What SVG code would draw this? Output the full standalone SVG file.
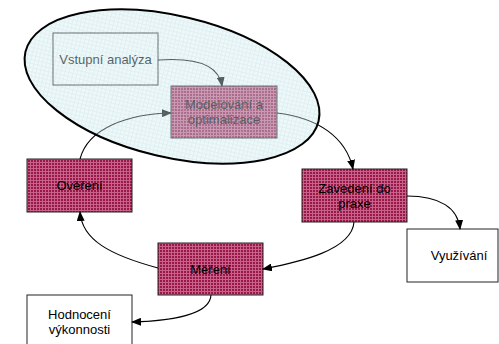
<svg xmlns="http://www.w3.org/2000/svg" width="499" height="344" viewBox="0 0 499 344">
<defs>
<pattern id="crimson" width="3" height="3" patternUnits="userSpaceOnUse">
<rect width="3" height="3" fill="#981848"/>
<rect width="3" height="1" fill="#c9628a"/>
<rect width="1" height="3" fill="#c9628a"/>
</pattern>
<pattern id="cyan" width="4" height="4" patternUnits="userSpaceOnUse">
<rect width="4" height="4" fill="#d6eef1"/>
<rect width="4" height="1" fill="#b4dbe1"/>
<rect width="1" height="4" fill="#b4dbe1"/>
</pattern>
<marker id="arr" markerUnits="userSpaceOnUse" markerWidth="10" markerHeight="8" refX="9" refY="4" orient="auto">
<path d="M0,0 L10,4 L0,8 z" fill="#000"/>
</marker>
</defs>
<style>
.box{stroke:#222;stroke-width:1}
.red{fill:url(#crimson)}
.white{fill:#fff}
text{font-family:"Liberation Sans",Arial,sans-serif;font-size:13px;fill:#000;text-anchor:middle}
.conn path{fill:none;stroke:#000;stroke-width:1.1;marker-end:url(#arr)}
</style>
<rect width="499" height="344" fill="#fff"/>
<g id="vstupni">
<rect class="box white" x="53" y="33" width="105" height="52"/>
<text x="105.5" y="64">Vstupní analýza</text>
</g>
<g id="modelovani">
<rect class="box red" x="171" y="86" width="106" height="52"/>
<text x="224" y="109">Modelování a</text>
<text x="224" y="124">optimalizace</text>
</g>
<g id="overeni">
<rect class="box red" x="27" y="159" width="105" height="53"/>
<text x="79.5" y="190">Ověření</text>
</g>
<g id="zavedeni">
<rect class="box red" x="302" y="169" width="105" height="53"/>
<text x="354.5" y="192.5">Zavedení do</text>
<text x="354.5" y="207.5">praxe</text>
</g>
<g id="mereni">
<rect class="box red" x="158" y="243" width="105" height="52"/>
<text x="210.5" y="273.5">Měření</text>
</g>
<g id="vyuzivani">
<rect class="box white" x="407" y="229" width="91" height="53"/>
<text x="459" y="260">Využívání</text>
</g>
<g id="hodnoceni">
<rect class="box white" x="27" y="295" width="105" height="55"/>
<text x="79.5" y="318.5">Hodnocení</text>
<text x="79.5" y="333.5">výkonnosti</text>
</g>
<g id="connectors" class="conn">
<path d="M158,60 C198,57 219,66 222,86"/>
<path d="M80,159 C88,128 128,114 171,113"/>
<path d="M277,113 C318,118 346,137 353,169"/>
<path d="M407,196 C440,196 458,208 460,229"/>
<path d="M354,222 C352,250 300,262 263,269"/>
<path d="M158,268 C110,255 82,240 80,212"/>
<path d="M211,295 C210,315 170,321 132,322"/>
</g>
<g id="scope">
<ellipse cx="172" cy="86.5" rx="150.6" ry="70.7" transform="rotate(13.3 172 86.5)" fill="url(#cyan)" fill-opacity="0.42" stroke="#000" stroke-width="2"/>
</g>
</svg>
